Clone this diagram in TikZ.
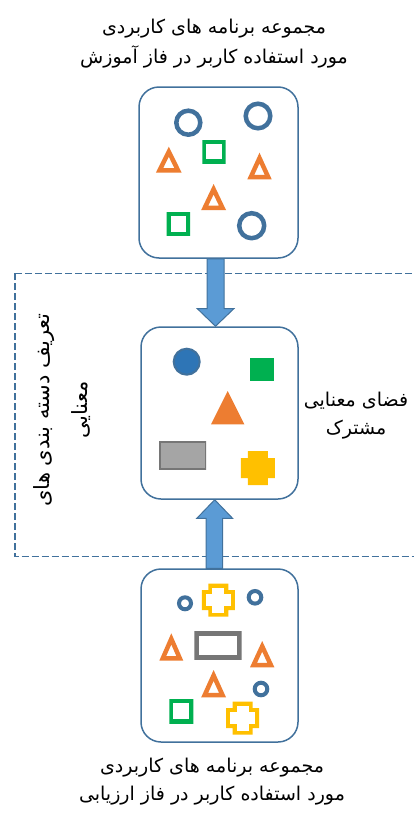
\documentclass[tikz,border=0pt]{standalone}
\usepackage{fontspec}
\newfontfamily\fa[Script=Arabic]{DejaVu Sans}
\TeXXeTstate=1
\usetikzlibrary{calc}
\definecolor{boxblue}{HTML}{41719C}
\definecolor{arrfill}{HTML}{5B9BD5}
\definecolor{circfill}{HTML}{2E75B6}
\definecolor{orng}{HTML}{ED7D31}
\definecolor{grn}{HTML}{00B050}
\definecolor{yel}{HTML}{FFC000}
\definecolor{gry}{HTML}{A5A5A5}
\definecolor{drkgry}{HTML}{767676}
\newcommand\inpoly[3]{\begin{scope}\clip #3; \draw[#1, line width=#2, line join=miter] #3; \end{scope}}
\newcommand\tripath[4]{(#1,#2) -- ({#1+#4},#3) -- ({#1-#4},#3) -- cycle}
\newcommand\crosspath[4]{({#1-#4},{#2-#3}) -- ({#1+#4},{#2-#3}) -- ({#1+#4},{#2-#4}) -- ({#1+#3},{#2-#4}) -- ({#1+#3},{#2+#4}) -- ({#1+#4},{#2+#4}) -- ({#1+#4},{#2+#3}) -- ({#1-#4},{#2+#3}) -- ({#1-#4},{#2+#4}) -- ({#1-#3},{#2+#4}) -- ({#1-#3},{#2-#4}) -- ({#1-#4},{#2-#4}) -- cycle}
\tikzset{
  box/.style={draw=boxblue, line width=1.5pt, rounded corners=20pt, fill=white},
  lbl/.style={font=\fa\fontsize{19}{30}\selectfont, align=center, inner sep=0pt},
  ring/.style={draw=boxblue, line width=4.5pt},
  blockarrow/.style={fill=arrfill, draw=boxblue, line width=1pt, line join=miter},
}
\begin{document}
\begin{tikzpicture}[x=1pt,y=-1pt]
\useasboundingbox (0,0) rectangle (414,814);
% dashed frame
\draw[boxblue, line width=1.5pt, dash pattern=on 7pt off 3pt] (15,273.3) rectangle (440,556.7);
% boxes
\node[box, minimum width=159pt, minimum height=171pt] (top) at (218.5,172.5) {};
\node[box, minimum width=157pt, minimum height=172pt] (mid) at (219.5,413) {};
\node[box, minimum width=157pt, minimum height=173pt] (bot) at (219.5,655.5) {};
% arrows
\draw[blockarrow] ($(top.south)+(-11.5,0)$) -- ($(top.south)+(5.5,0)$) -- ($(mid.north)+(4.5,-17.7)$) -- ($(mid.north)+(14.5,-17.7)$) -- ($(mid.north)+(-4,0)$) -- ($(mid.north)+(-22.3,-17.7)$) -- ($(mid.north)+(-12.5,-17.7)$) -- cycle;
\draw[blockarrow] ($(bot.north)+(-13.5,0)$) -- ($(bot.north)+(3.2,0)$) -- ($(mid.south)+(3.2,18.7)$) -- ($(mid.south)+(13.2,18.7)$) -- ($(mid.south)+(-4.8,0)$) -- ($(mid.south)+(-22.8,18.7)$) -- ($(mid.south)+(-13.5,18.7)$) -- cycle;
% top box shapes
\draw[ring] (188.3,122.7) circle (12pt);
\draw[ring] (258,116) circle (12.3pt);
\draw[ring] (251.7,225.7) circle (12.5pt);
\inpoly{grn}{8pt}{(202.3,140) rectangle (225.7,163.3)}
\inpoly{grn}{8pt}{(166.7,212.3) rectangle (190,235.7)}
\inpoly{orng}{9pt}{\tripath{168.8}{146.7}{172.7}{12.9}}
\inpoly{orng}{9pt}{\tripath{259.5}{152.7}{179.3}{12.2}}
\inpoly{orng}{9pt}{\tripath{213.6}{184}{210}{12.4}}
% middle box shapes
\draw[fill=circfill, draw=boxblue, line width=2pt] (186.7,361.7) circle (13pt);
\fill[grn] (250,357.7) rectangle (274.3,381);
\fill[orng] \tripath{227.7}{391}{424.3}{16.7};
\fill[gry] (159,441.7) rectangle (206,469.3);
\inpoly{drkgry}{3pt}{(159,441.7) rectangle (206,469.3)}
\fill[yel] \crosspath{257.8}{468}{17}{10};
% bottom box shapes
\draw[ring, line width=4pt] (185,603.3) circle (6pt);
\draw[ring, line width=4pt] (255,597.3) circle (6.3pt);
\draw[ring, line width=4pt] (261,689) circle (6.3pt);
\inpoly{yel}{8pt}{\crosspath{218.3}{600}{16.5}{10}}
\inpoly{yel}{8pt}{\crosspath{242.7}{718}{16.5}{10}}
\inpoly{drkgry}{9pt}{(194.3,631.7) rectangle (241.7,659)}
\inpoly{orng}{9pt}{\tripath{171.3}{633.3}{660.7}{12}}
\inpoly{orng}{9pt}{\tripath{262.2}{641}{667.3}{12.2}}
\inpoly{orng}{9pt}{\tripath{213.6}{670}{697.3}{12.4}}
\inpoly{grn}{8pt}{(169.3,699.3) rectangle (193.3,723.3)}
% texts
\node[lbl] (ttop) at (214,44) {\beginR مجموعه برنامه های کاربردی\endR\\\beginR مورد استفاده کاربر در فاز آموزش\endR};
\node[lbl, font=\fa\fontsize{19}{28}\selectfont] (tbot) at (212,782) {\beginR مجموعه برنامه های کاربردی\endR\\\beginR مورد استفاده کاربر در فاز ارزیابی\endR};
\node[lbl, font=\fa\fontsize{19}{28}\selectfont] (tmid) at (356,416) {\beginR فضای معنایی\endR\\\beginR مشترک\endR};
\node[lbl, rotate=90, font=\fa\fontsize{21}{38}\selectfont] (tleft) at (62,410) {\beginR تعریف دسته بندی های\endR\\\beginR معنایی\endR};
\end{tikzpicture}
\end{document}
